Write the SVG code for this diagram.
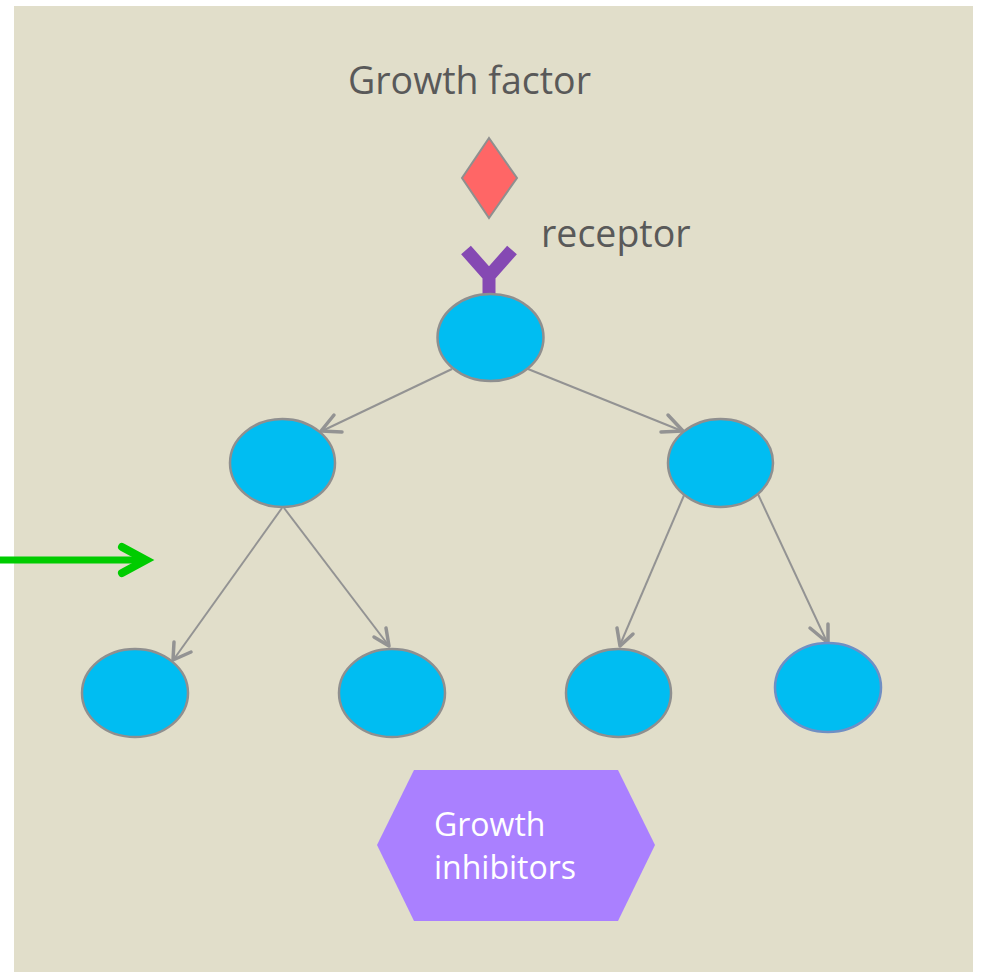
<svg xmlns="http://www.w3.org/2000/svg" width="981" height="972" viewBox="0 0 981 972">
<style>
.lbl{font-family:"Open Sans","Liberation Sans",sans-serif;font-size:37.5px;fill:#595959}
.wht{font-family:"Open Sans","Liberation Sans",sans-serif;font-size:32px;fill:#ffffff}
.cell{fill:#00BDF2;stroke:#8f8f8f;stroke-width:2.5}
.edge{stroke:#939393;stroke-width:2;fill:none}
.head{stroke:#939393;stroke-width:3.5;fill:none;stroke-linecap:round;stroke-linejoin:round}
</style>
<rect x="14" y="6" width="959" height="966" fill="#E1DECA"/>
<g id="growth-factor-label"><text class="lbl" x="348" y="94">Growth factor</text></g>
<g id="growth-factor"><polygon points="489,138 517,178 489,218 462,178" fill="#FF6666" stroke="#8f8f8f" stroke-width="2"/></g>
<g id="receptor-label"><text class="lbl" x="541" y="247">receptor</text></g>
<g id="receptor"><path d="M466,250 L489,276 L512,250 M489,274 L489,297" stroke="#8549B3" stroke-width="13" fill="none"/></g>
<g id="connectors">
<line class="edge" x1="452" y1="369" x2="322" y2="431"/>
<polyline class="head" points="334,415 321,431 342,432"/>
<line class="edge" x1="528" y1="369" x2="682" y2="431"/>
<polyline class="head" points="668,415 683,431 661,432"/>
<line class="edge" x1="282" y1="508" x2="174" y2="659"/>
<polyline class="head" points="174,642 173,660 191,652"/>
<line class="edge" x1="284" y1="508" x2="389" y2="646"/>
<polyline class="head" points="374,637 389,646 386,628"/>
<line class="edge" x1="685" y1="493" x2="620" y2="645"/>
<polyline class="head" points="617,628 620,646 633,634"/>
<line class="edge" x1="757" y1="492" x2="827" y2="642"/>
<polyline class="head" points="810,628 828,643 828,624"/>
<g id="green-arrow">
<line x1="0" y1="560" x2="145" y2="560" stroke="#00CC00" stroke-width="7"/>
<polyline points="122,547 146,560 122,573" stroke="#00CC00" stroke-width="8" fill="none" stroke-linecap="round" stroke-linejoin="miter"/>
</g>
</g>
<g id="node-top"><ellipse class="cell" cx="490.5" cy="337.5" rx="53" ry="43.5"/></g>
<g id="node-mid-left"><ellipse class="cell" cx="282.5" cy="463" rx="52.5" ry="44"/></g>
<g id="node-mid-right"><ellipse class="cell" cx="720.5" cy="463" rx="52.5" ry="44"/></g>
<g id="node-bottom-1"><ellipse class="cell" cx="135" cy="693" rx="53" ry="44"/></g>
<g id="node-bottom-2"><ellipse class="cell" cx="392" cy="693" rx="53" ry="44"/></g>
<g id="node-bottom-3"><ellipse class="cell" cx="618.5" cy="693" rx="52.5" ry="44"/></g>
<g id="node-bottom-4"><ellipse class="cell" cx="828" cy="687.5" rx="53" ry="44.5" style="stroke:#6F8FC4"/></g>
<g id="growth-inhibitors">
<polygon points="414,770 618,770 655,845 618,921 414,921 377,845" fill="#AA80FF"/>
<text class="wht" x="434" y="836">Growth</text>
<text class="wht" x="434" y="879">inhibitors</text>
</g>
</svg>
